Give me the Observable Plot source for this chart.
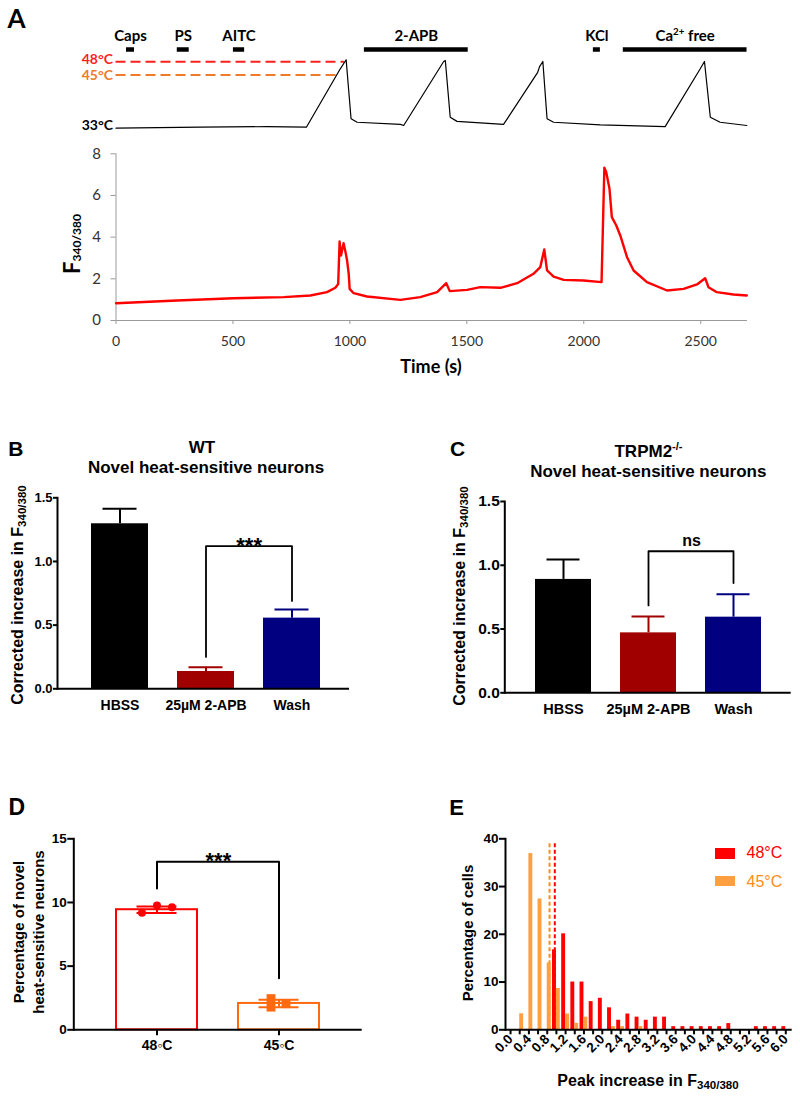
<!DOCTYPE html>
<html>
<head>
<meta charset="utf-8">
<script src="https://cdn.jsdelivr.net/npm/d3@7"></script>
<script src="https://cdn.jsdelivr.net/npm/@observablehq/plot@0.6"></script>
<style>
  html, body { margin: 0; padding: 0; background: #fff; }
  #root { position: relative; width: 800px; height: 1098px; overflow: hidden; background: #fff; }
  .c { position: absolute; transform: translate(-50%, -50%); white-space: nowrap; line-height: 1; }
  .r { position: absolute; transform: translate(-50%, -50%) rotate(-90deg); white-space: nowrap; line-height: 1; text-align: center; }
  .l { position: absolute; transform: translate(0, -50%); white-space: nowrap; line-height: 1; }
  .arial { font-family: "Liberation Sans", Arial, sans-serif; font-weight: bold; color: #000; }
  .lato { font-family: Lato, "Open Sans", sans-serif; font-weight: bold; color: #000; }
  sub { font-size: 0.72em; vertical-align: -0.28em; line-height: 0; }
  sup { font-size: 0.65em; vertical-align: 0.55em; line-height: 0; }
</style>
</head>
<body>
<div id="root"></div>
<script>
// ================= DATA =================
// Panel A: drug applications (s)
const drugNames = ["Caps", "PS", "AITC", "2-APB", "KCl", "Ca^{2+} free"];
const drugStart = [45, 262, 502, 1062, 2041, 2169];
const drugEnd   = [79, 313, 550, 1506, 2071, 2698];

// Panel A: bath temperature trace
const tempTime  = [0, 361, 646, 814, 959, 984, 1005, 1031, 1216, 1230, 1401, 1408, 1429, 1458, 1657, 1803, 1811, 1825, 1843, 1871, 2071, 2348, 2498, 2516, 2541, 2583, 2697];
const tempValue = [32.85, 33.07, 33.2, 33.07, 46.4, 48.46, 35.0, 34.2, 33.7, 33.46, 48.07, 48.3, 35.35, 34.4, 33.7, 45.6, 46.9, 48.07, 35.0, 34.2, 33.6, 33.2, 46.4, 48.07, 35.35, 34.2, 33.46];

// Panel A: reference temperatures
const refTemps  = [48, 45, 33];
const refLabels = ["48°C", "45°C", "33°C"];
const refEnd    = [977, 959, null];

// Panel A: Fura-2 ratio trace
const ratioTime  = [0, 261, 502, 717, 831, 902, 938, 950, 956, 962, 973, 981, 988, 995, 999, 1016, 1073, 1216, 1301, 1373, 1412, 1427, 1501, 1558, 1643, 1715, 1785, 1814, 1831, 1843, 1871, 1914, 1999, 2076, 2088, 2096, 2110, 2120, 2139, 2156, 2185, 2213, 2270, 2356, 2427, 2484, 2519, 2533, 2569, 2640, 2697];
const ratioValue = [0.83, 0.96, 1.07, 1.12, 1.2, 1.36, 1.57, 1.75, 3.79, 3.12, 3.71, 3.3, 2.88, 2.24, 1.52, 1.31, 1.15, 0.99, 1.12, 1.36, 1.79, 1.41, 1.47, 1.6, 1.57, 1.79, 2.24, 2.56, 3.41, 2.4, 2.11, 1.95, 1.92, 1.84, 7.33, 7.12, 6.32, 4.96, 4.56, 4.08, 3.04, 2.4, 1.84, 1.44, 1.52, 1.73, 2.03, 1.6, 1.36, 1.25, 1.2];
const timeTicks  = [0, 500, 1000, 1500, 2000, 2500];
const ratioTicks = [0, 2, 4, 6, 8];

// Panels B & C
const conditions = ["HBSS", "25µM 2-APB", "Wash"];
const wtMean = [1.296, 0.136, 0.555];
const wtSem  = [0.118, 0.034, 0.068];
const koMean = [0.889, 0.470, 0.593];
const koSem  = [0.156, 0.128, 0.180];
const barTicks = [0, 0.5, 1.0, 1.5];
const wtBracketY = [0.25, 1.12, 1.12, 0.69];
const koBracketY = [0.685, 1.11, 1.11, 0.86];
const bracketX = ["25µM 2-APB", "25µM 2-APB", "Wash", "Wash"];

// Panel D
const heatGroups = ["48◦C", "45◦C"];
const pctMean = [9.43, 2.07];
const pctSem  = [0.26, 0.29];
const pctReps48 = [9.20, 9.76, 9.63];
const pctReps45 = [2.45, 1.78, 2.05];
const pctTicks = [0, 5, 10, 15];
const dBracketY = [11.1, 13.2, 13.2, 4.05];

// Panel E
const histBins = [0.2,0.4,0.6,0.8,1.0,1.2,1.4,1.6,1.8,2.0,2.2,2.4,2.6,2.8,3.0,3.2,3.4,3.6,3.8,4.0,4.2,4.4,4.6,4.8,5.0,5.2,5.4,5.6,5.8,6.0];
const hist48 = [0,0,0,0,16.75,20.1,10.0,10.0,5.9,6.6,4.6,2.0,3.3,2.65,2.0,2.65,2.65,0.66,0.66,0.66,0.66,0.66,0.66,1.3,0,0,0.66,0.66,0.66,0.66];
const hist45 = [3.35,36.9,27.4,14.0,8.66,3.3,1.33,2.65,0,0,0.66,0.66,0,0.66,0,0,0,0,0,0,0,0,0,0,0,0,0,0,0,0];
const median48 = 0.965, median45 = 0.85;
const histMajorTicks = [0.0,0.4,0.8,1.2,1.6,2.0,2.4,2.8,3.2,3.6,4.0,4.4,4.8,5.2,5.6,6.0];
const histMinorTicks = [0.2,0.6,1.0,1.4,1.8,2.2,2.6,3.0,3.4,3.8,4.2,4.6,5.0,5.4,5.8];
const cellTicks = [0, 10, 20, 30, 40];

// ================= HELPERS =================
const root = document.getElementById("root");
function put(svg, left, top) {
  svg.style.position = "absolute";
  svg.style.left = left + "px";
  svg.style.top = top + "px";
  svg.style.overflow = "visible";
  root.appendChild(svg);
}
function html(cls, cx, cy, size, content, extra = "") {
  const d = document.createElement("div");
  d.className = cls;
  d.style.cssText = `left:${cx}px;top:${cy}px;font-size:${size}px;${extra}`;
  d.innerHTML = content;
  root.appendChild(d);
}
function richify(svg) {
  svg.querySelectorAll("text").forEach(t => {
    const s = t.textContent;
    if (!/[\^_]\{/.test(s)) return;
    t.textContent = "";
    const re = /([\^_])\{([^}]*)\}/g;
    let last = 0, m;
    const add = (str, kind) => {
      if (!str) return;
      const ts = document.createElementNS("http://www.w3.org/2000/svg", "tspan");
      ts.textContent = str;
      if (kind === "^") { ts.setAttribute("baseline-shift", "super"); ts.setAttribute("font-size", "65%"); }
      if (kind === "_") { ts.setAttribute("baseline-shift", "sub"); ts.setAttribute("font-size", "70%"); }
      t.appendChild(ts);
    };
    while ((m = re.exec(s))) { add(s.slice(last, m.index)); add(m[2], m[1]); last = re.lastIndex; }
    add(s.slice(last));
  });
  return svg;
}
const ARIAL = "'Liberation Sans', Arial, sans-serif";
const LATO = "Lato, 'Open Sans', sans-serif";

// ================= PANEL A =================
const drugs = drugNames.map((name, i) => ({name, start: drugStart[i], end: drugEnd[i]}));
const tempData = tempTime.map((t, i) => ({t, c: tempValue[i]}));
const ratioData = ratioTime.map((t, i) => ({t, r: ratioValue[i]}));
const refColors = ["#ff1f1f", "#ee7a2a", "#000000"];
const refDy = [-2.5, 0.5, -1.5];

// temperature trace
const tempMarks = [];
refTemps.forEach((c, i) => {
  if (refEnd[i] != null) {
    tempMarks.push(Plot.ruleY([c], {x1: () => 0, x2: () => refEnd[i], y: d => d, stroke: refColors[i], strokeWidth: 2, strokeDasharray: "10,5"}));
  }
  tempMarks.push(Plot.text([c], {x: () => 0, y: d => d, text: () => refLabels[i], fill: refColors[i], textAnchor: "end", dx: -3, dy: refDy[i], fontSize: 14, fontWeight: "bold"}));
});
tempMarks.push(Plot.line(tempData, {x: "t", y: "c", stroke: "#000", strokeWidth: 1.2}));
put(Plot.plot({
  width: 800, height: 100, marginLeft: 115.5, marginRight: 53, marginTop: 21.3, marginBottom: 13,
  x: {domain: [0, 2700], axis: null},
  y: {domain: [33, 48], axis: null},
  style: {fontFamily: LATO, background: "transparent", color: "#000"},
  marks: tempMarks
}), 0, 40);

// drug bars
put(richify(Plot.plot({
  width: 800, height: 36, marginLeft: 115.5, marginRight: 53, marginTop: 0, marginBottom: 0,
  x: {domain: [0, 2700], axis: null},
  y: {type: "point", domain: ["label", "bar"], range: [16, 29.5], padding: 0, axis: null},
  style: {fontFamily: LATO, fontSize: "15px", fontWeight: "bold", background: "transparent", color: "#000"},
  marks: [
    Plot.ruleY(drugs, {x1: "start", x2: "end", y: () => "bar", stroke: "#000", strokeWidth: 4.5}),
    Plot.text(drugs, {x: d => (d.start + d.end) / 2, y: () => "label", text: "name", fill: "#000"})
  ]
})), 0, 20);

// ratio trace
put(Plot.plot({
  width: 800, height: 240, marginLeft: 115.5, marginRight: 53, marginTop: 13.3, marginBottom: 60,
  x: {domain: [0, 2700]},
  y: {domain: [0, 8]},
  style: {fontFamily: LATO, fontSize: "14px", background: "transparent", color: "#333"},
  marks: [
    Plot.ruleY([0], {stroke: "#9a9a9a"}),
    Plot.ruleX([0], {stroke: "#9a9a9a"}),
    Plot.axisX({ticks: timeTicks, tickFormat: "d", tickSize: 4, tickPadding: 12, stroke: "#9a9a9a", label: null, fontSize: 14}),
    Plot.axisY({ticks: ratioTicks, tickFormat: "d", tickSize: 5, tickPadding: 10, stroke: "#9a9a9a", label: null, fontSize: 15}),
    Plot.line(ratioData, {x: "t", y: "r", stroke: "#ff0000", strokeWidth: 2.4})
  ]
}), 0, 140);

html("c lato", 16.5, 17.5, 26, "A");
html("c lato", 431, 366, 18, "Time (s)");
html("r lato", 72, 243.5, 22, "F<sub style=\"font-size:12px;vertical-align:-0.05em\">340/380</sub>");

// ================= PANELS B & C =================
function barPanel({means, sems, bracketY, label, left, top, m, band, yFont, xFont, xPad, starDx, starDy, starSize}) {
  const colors = ["#000000", "#a00000", "#000080"];
  const rows = conditions.map((c, i) => ({c, m: means[i], s: sems[i], col: colors[i]}));
  const br = bracketX.map((x, i) => ({x, y: bracketY[i]}));
  const svg = Plot.plot({
    width: 400, height: 320,
    marginTop: m[0], marginRight: m[1], marginBottom: m[2], marginLeft: m[3],
    x: {domain: conditions, paddingInner: band[0], paddingOuter: band[1], align: band[2], label: null},
    y: {domain: [0, 1.5], label: null},
    color: {type: "identity"},
    style: {fontFamily: ARIAL, fontWeight: "bold", background: "transparent", color: "#000"},
    marks: [
      Plot.barY(rows, {x: "c", y: "m", fill: "col"}),
      Plot.ruleX(rows, {x: "c", y1: "m", y2: d => d.m + d.s, stroke: "col", strokeWidth: 2}),
      Plot.tickY(rows, {x: "c", y: d => d.m + d.s, stroke: "col", strokeWidth: 2, insetLeft: 11.5, insetRight: 11.5}),
      Plot.line(br, {x: "x", y: "y", stroke: "#000", strokeWidth: 1.8}),
      Plot.text([label], {x: () => bracketX[0], y: () => bracketY[1], text: d => d, dx: starDx, dy: starDy, fontSize: starSize, fontWeight: "bold"}),
      Plot.ruleY([0], {strokeWidth: 2}),
      Plot.frame({anchor: "left", strokeWidth: 2}),
      Plot.axisY({ticks: barTicks, tickFormat: ".1f", tickSize: 4, tickPadding: 1, strokeWidth: 2, label: null, fontSize: yFont}),
      Plot.axisX({tickSize: 0, tickPadding: xPad, label: null, fontSize: xFont})
    ]
  });
  put(svg, left, top);
}
barPanel({means: wtMean, sems: wtSem, bracketY: wtBracketY, label: "***", left: 0, top: 400,
  m: [97.3, 51, 31.7, 57], band: [0.34, 0.36, 0.54], yFont: 13, xFont: 14, xPad: 11.5,
  starDx: 43.1, starDy: 0, starSize: 22});
barPanel({means: koMean, sems: koSem, bracketY: koBracketY, label: "ns", left: 400, top: 400,
  m: [101, 9.3, 27.7, 104.3], band: [0.337, 0.335, 0.506], yFont: 15.5, xFont: 14.5, xPad: 11,
  starDx: 43, starDy: -10, starSize: 16});

html("c arial", 15.8, 447.5, 21, "B");
html("c arial", 202, 447, 17, "WT");
html("c arial", 206, 467.3, 17, "Novel heat-sensitive neurons");
html("r arial", 18, 595, 16, "Corrected increase in F<sub>340/380</sub>");

html("c arial", 457.5, 448, 21, "C");
html("c arial", 648.5, 451, 17, "TRPM2<sup>-/-</sup>");
html("c arial", 648.3, 471.2, 17, "Novel heat-sensitive neurons");
html("r arial", 460, 596, 16, "Corrected increase in F<sub>340/380</sub>");

// ================= PANEL D =================
{
  const colors = ["#ff0000", "#ff6a10"];
  const rows = heatGroups.map((g, i) => ({g, m: pctMean[i], s: pctSem[i], col: colors[i]}));
  const br = [heatGroups[0], heatGroups[0], heatGroups[1], heatGroups[1]].map((x, i) => ({x, y: dBracketY[i]}));
  const jitter = [[-15, 0, 15], [-8, -8, 7]];
  const reps = [pctReps48, pctReps45];
  const dotMarks = [];
  reps.forEach((arr, gi) => arr.forEach((v, ri) => {
    dotMarks.push(Plot.dot([v], {x: () => heatGroups[gi], y: d => d, dx: jitter[gi][ri],
      symbol: gi === 0 ? "circle" : "square", r: gi === 0 ? 4 : 5, fill: colors[gi], stroke: "none"}));
  }));
  put(Plot.plot({
    width: 400, height: 378, marginTop: 118.3, marginRight: 38.3, marginBottom: 68.7, marginLeft: 73.3,
    x: {domain: heatGroups, paddingInner: 0.34, paddingOuter: 0.345, align: 0.5, label: null},
    y: {domain: [0, 15], label: null},
    color: {type: "identity"},
    style: {fontFamily: ARIAL, fontWeight: "bold", background: "transparent", color: "#000"},
    marks: [
      Plot.barY(rows, {x: "g", y: "m", fill: "white", stroke: "col", strokeWidth: 2}),
      Plot.ruleX(rows, {x: "g", y1: d => d.m - d.s, y2: d => d.m + d.s, stroke: "col", strokeWidth: 2}),
      Plot.tickY(rows, {x: "g", y: d => d.m + d.s, stroke: "col", strokeWidth: 2, insetLeft: 20.5, insetRight: 20.5}),
      Plot.tickY(rows, {x: "g", y: d => d.m - d.s, stroke: "col", strokeWidth: 2, insetLeft: 20.5, insetRight: 20.5}),
      ...dotMarks,
      Plot.line(br, {x: "x", y: "y", stroke: "#000", strokeWidth: 2}),
      Plot.text(["***"], {x: () => heatGroups[0], y: () => dBracketY[1], text: d => d, dx: 61.4, dy: -0.5, fontSize: 22, fontWeight: "bold"}),
      Plot.ruleY([0], {strokeWidth: 2}),
      Plot.frame({anchor: "left", strokeWidth: 2}),
      Plot.axisY({ticks: pctTicks, tickSize: 6, tickPadding: 1, strokeWidth: 2, label: null, fontSize: 13.5}),
      Plot.axisX({tickSize: 6, tickPadding: 4.5, strokeWidth: 2, label: null, fontSize: 14})
    ]
  }), 0, 720);
  html("c arial", 16.7, 806.7, 23, "D");
  html("r arial", 27.5, 932, 15, "Percentage of novel<br>heat-sensitive neurons", "line-height:19.5px;");
}

// ================= PANEL E =================
{
  const h48 = histBins.map((b, i) => ({b, p: hist48[i]})).filter(d => d.p > 0);
  const h45 = histBins.map((b, i) => ({b, p: hist45[i]})).filter(d => d.p > 0);
  put(Plot.plot({
    width: 400, height: 378, marginTop: 118.3, marginRight: 8.3, marginBottom: 68.7, marginLeft: 105,
    x: {domain: [-0.11, 6.14], label: null},
    y: {domain: [0, 40], label: null},
    style: {fontFamily: ARIAL, fontWeight: "bold", background: "transparent", color: "#000"},
    marks: [
      Plot.ruleX([median45], {y1: 0, y2: 39, stroke: "#ff8c1a", strokeWidth: 2, strokeDasharray: "4,2.5"}),
      Plot.ruleX([median48], {y1: 0, y2: 39, stroke: "#ff0000", strokeWidth: 2, strokeDasharray: "4,2.5"}),
      Plot.rectY(h48, {x1: d => d.b - 0.085, x2: d => d.b, y1: 0, y2: "p", fill: "#ff0000"}),
      Plot.rectY(h45, {x1: d => d.b, x2: d => d.b + 0.085, y1: 0, y2: "p", fill: "#ff9f40"}),
      Plot.ruleY([0], {strokeWidth: 2}),
      Plot.frame({anchor: "left", strokeWidth: 2}),
      Plot.axisY({ticks: cellTicks, tickSize: 6, tickPadding: 1, strokeWidth: 2, label: null, fontSize: 13.5}),
      Plot.axisX({ticks: histMinorTicks, tickSize: 5, tickFormat: () => "", strokeWidth: 2, label: null}),
      Plot.axisX({ticks: histMajorTicks, tickSize: 5, tickPadding: 2, tickRotate: -45, tickFormat: ".1f", strokeWidth: 2, label: null, fontSize: 13.5})
    ]
  }), 400, 720);
  html("c arial", 456.7, 808, 22, "E");
  html("r arial", 466.5, 933.3, 15, "Percentage of cells");
  html("c arial", 648, 1081, 16, "Peak increase in F<sub>340/380</sub>");
  // legend
  const sw1 = document.createElement("div");
  sw1.style.cssText = "position:absolute;left:715px;top:847.5px;width:20px;height:11px;background:#ff0000;";
  root.appendChild(sw1);
  const sw2 = document.createElement("div");
  sw2.style.cssText = "position:absolute;left:715px;top:875.5px;width:20px;height:10.5px;background:#ff9f40;";
  root.appendChild(sw2);
  html("l", 746.5, 853.3, 16, "48°C", "font-family:'Liberation Sans',Arial,sans-serif;color:#ff0000;");
  html("l", 746.5, 881.7, 16, "45°C", "font-family:'Liberation Sans',Arial,sans-serif;color:#ff8c1a;");
}
</script>
</body>
</html>
